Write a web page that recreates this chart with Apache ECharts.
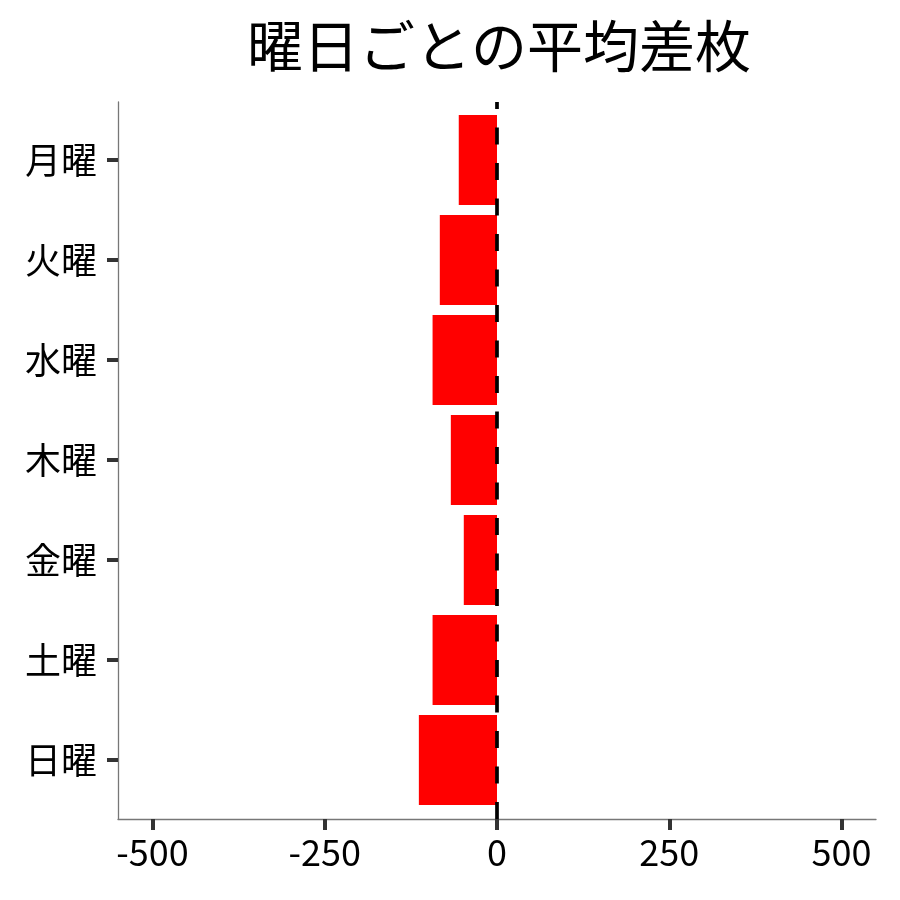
<!DOCTYPE html>
<html>
<head>
<meta charset="utf-8">
<script src="https://cdn.jsdelivr.net/npm/echarts@6/dist/echarts.min.js"></script>
<style>html,body{margin:0;padding:0;background:#fff;}#chart{width:900px;height:900px;}</style>
</head>
<body>
<div id="chart"></div>
<script>
const titleText = '曜日ごとの平均差枚';
const categories = ['月曜', '火曜', '水曜', '木曜', '金曜', '土曜', '日曜'];
const values = [-55.5, -83, -93.5, -67, -48.2, -93.5, -113.4];
const xTicks = [-500, -250, 0, 250, 500];
const xMin = -550, xMax = 550;
const refLine = 0;

const FONT = 'Noto Sans CJK JP';
const chart = echarts.init(document.getElementById('chart'), null, {renderer: 'canvas'});
chart.setOption({
  animation: false,
  backgroundColor: '#ffffff',
  title: {
    text: titleText,
    left: 494,
    textAlign: 'center',
    top: 9,
    textStyle: {fontFamily: FONT, fontSize: 56, fontWeight: 'normal', color: '#000', lineHeight: 64}
  },
  grid: [
    {left: 118, right: 24, top: 110, bottom: 90, containLabel: false},
    {left: 118, right: 24, top: 102, bottom: 81, containLabel: false}
  ],
  xAxis: [
    {gridIndex: 0, type: 'value', min: xMin, max: xMax, show: false},
    {gridIndex: 1, type: 'value', min: xMin, max: xMax, position: 'bottom',
     axisLine: {show: true, onZero: false, lineStyle: {color: '#777', width: 1.3}},
     axisTick: {show: true, customValues: xTicks, length: 11, lineStyle: {color: '#333', width: 4}},
     axisLabel: {show: true, customValues: xTicks, margin: 15, fontFamily: FONT, fontSize: 36, color: '#000'},
     splitLine: {show: false}}
  ],
  yAxis: [
    {gridIndex: 0, type: 'category', data: categories, inverse: true, position: 'left',
     axisLine: {show: false, onZero: false},
     axisTick: {show: true, alignWithLabel: true, length: 11, lineStyle: {color: '#333', width: 4}},
     axisLabel: {margin: 21, fontFamily: FONT, fontSize: 36, color: '#000'},
     splitLine: {show: false}},
    {gridIndex: 1, type: 'value', min: 0, max: 1, position: 'left',
     axisLine: {show: true, onZero: false, lineStyle: {color: '#777', width: 1.3}},
     axisTick: {show: false}, axisLabel: {show: false}, splitLine: {show: false}}
  ],
  series: [
    {type: 'bar', xAxisIndex: 0, yAxisIndex: 0, data: values, barWidth: '90%',
     itemStyle: {color: '#FF0000'}, z: 2},
    {type: 'line', xAxisIndex: 1, yAxisIndex: 1, data: [], z: 5,
     markLine: {silent: true, symbol: 'none', label: {show: false},
       lineStyle: {color: '#000', type: [17, 18.5], width: 3.7},
       data: [{xAxis: refLine}]}}
  ]
});
</script>
</body>
</html>
